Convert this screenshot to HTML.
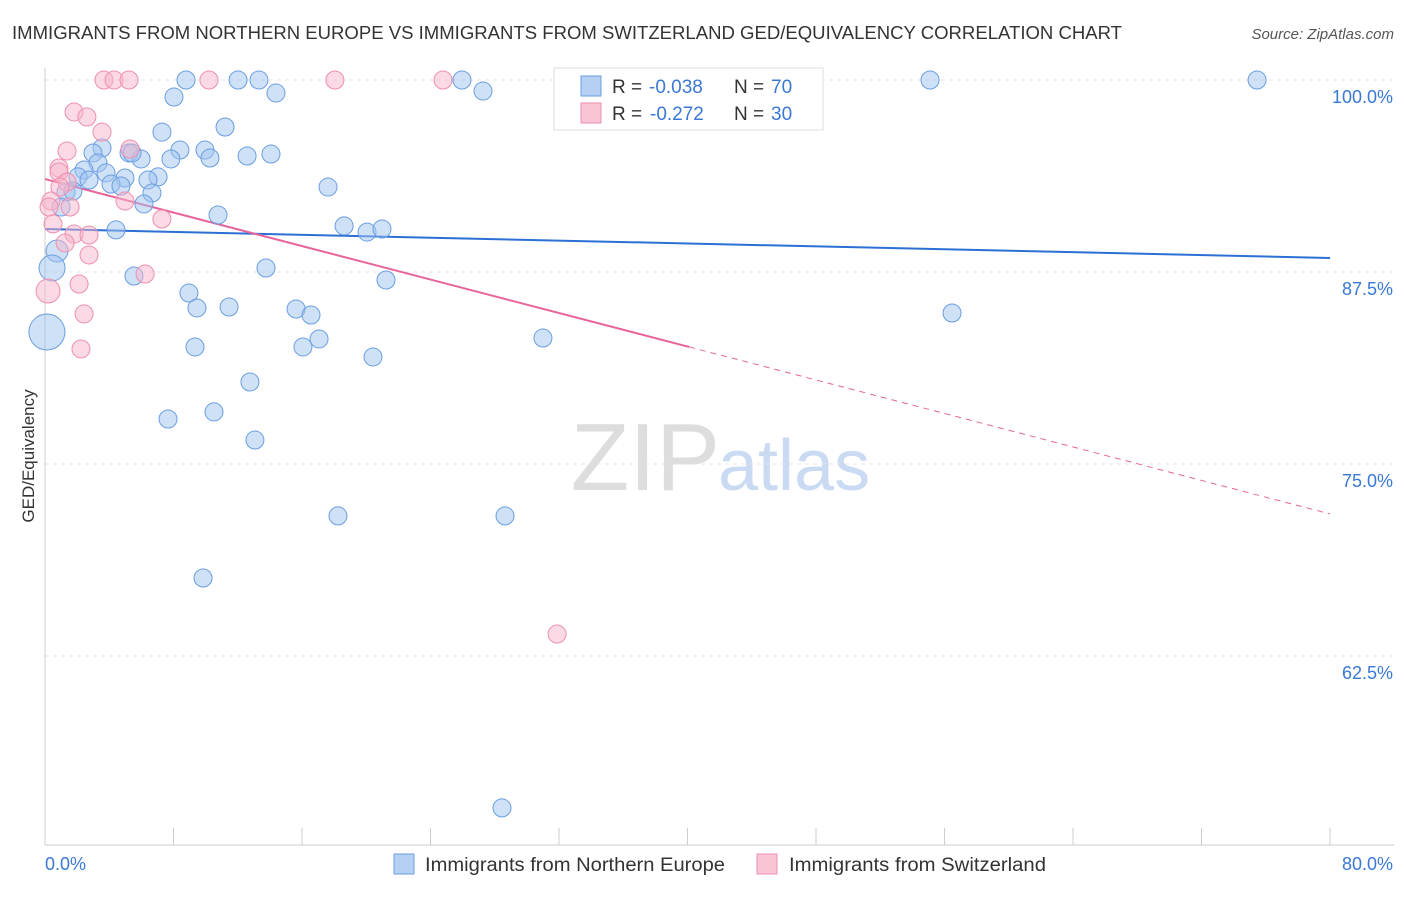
<!DOCTYPE html>
<html><head><meta charset="utf-8"><style>
body{margin:0;background:#fff;font-family:"Liberation Sans",sans-serif;}
svg text{font-family:"Liberation Sans",sans-serif;}
</style></head><body>
<svg id="chart" width="1406" height="892">
<text x="12" y="39" font-size="18" fill="#333" textLength="1110" lengthAdjust="spacingAndGlyphs">IMMIGRANTS FROM NORTHERN EUROPE VS IMMIGRANTS FROM SWITZERLAND GED/EQUIVALENCY CORRELATION CHART</text>
<text x="1394" y="39" font-size="15" fill="#555" font-style="italic" text-anchor="end">Source: ZipAtlas.com</text>
<text x="720" y="490" font-size="96" fill="#ddd" text-anchor="end" font-family="Liberation Serif">ZIP</text>
<text x="718" y="490" font-size="72" fill="#c9daf2">atlas</text>
<text transform="translate(34,456) rotate(-90)" font-size="17" fill="#333" text-anchor="middle">GED/Equivalency</text>
<g id="grid"></g><g id="ticks"></g><g id="lines"></g><g id="pts"></g>
<g>
<rect x="554" y="68" width="269" height="62" fill="#fff" stroke="#ddd"/>
<rect x="581" y="76" width="20" height="20" fill="#b5d0f3" stroke="#6a9ee0"/>
<text x="612" y="93" font-size="19" fill="#333">R =</text>
<text x="649" y="93" font-size="19" fill="#3a78d6">-0.038</text>
<text x="734" y="93" font-size="19" fill="#333">N =</text>
<text x="771" y="93" font-size="19" fill="#3a78d6">70</text>
<rect x="581" y="103" width="20" height="20" fill="#f9c4d4" stroke="#ee8fae"/>
<text x="612" y="120" font-size="19" fill="#333">R =</text>
<text x="650" y="120" font-size="19" fill="#3a78d6">-0.272</text>
<text x="734" y="120" font-size="19" fill="#333">N =</text>
<text x="771" y="120" font-size="19" fill="#3a78d6">30</text>
</g>
<g>
<rect x="394" y="854" width="20" height="20" fill="#b5d0f3" stroke="#6a9ee0"/>
<text x="425" y="871" font-size="19" fill="#333" textLength="300" lengthAdjust="spacingAndGlyphs">Immigrants from Northern Europe</text>
<rect x="757" y="854" width="20" height="20" fill="#f9c4d4" stroke="#ee8fae"/>
<text x="789" y="871" font-size="19" fill="#333" textLength="257" lengthAdjust="spacingAndGlyphs">Immigrants from Switzerland</text>
</g>
</svg>
<script>
const blueX=[33.0,8.78,12.02,13.32,25.96,55.10,75.46,8.03,14.38,27.27,11.21,7.28,3.55,2.99,5.23,5.98,8.40,9.96,10.27,7.84,12.58,14.07,3.30,2.43,3.80,2.05,2.74,4.98,7.04,4.11,4.73,6.41,1.31,1.74,6.66,6.16,1.00,10.77,17.62,4.42,18.62,20.05,20.98,0.75,0.44,13.76,5.54,21.23,8.96,9.46,11.46,15.63,16.56,16.06,17.06,31.00,56.47,20.42,9.34,12.76,0.12,7.66,10.52,13.07,18.24,28.64,9.84,28.45,5.42];
const blueY=[100,100,100,100,100,100,100,98.89,99.15,99.28,96.94,96.61,95.57,95.25,95.25,94.86,95.44,95.44,94.92,94.86,95.05,95.18,94.60,94.14,93.95,93.69,93.49,93.62,93.69,93.23,93.10,93.49,92.71,92.77,92.64,91.93,91.73,91.21,93.03,90.24,90.50,90.10,90.30,88.87,87.76,87.76,87.24,86.98,86.13,85.16,85.22,85.09,84.70,82.62,83.14,83.20,84.83,81.97,82.62,80.34,83.59,77.93,78.39,76.56,71.62,71.62,67.58,52.61,95.25];
const blueR=[9,9,9,9,9,9,9,9,9,9,9,9,9,9,9,9,9,9,9,9,9,9,9,9,9,9,9,9,9,9,9,9,9,9,9,9,9,9,9,9,9,9,9,11,13,9,9,9,9,9,9,9,9,9,9,9,9,9,9,9,18,9,9,9,9,9,9,9,9];
const pinkX=[3.67,4.30,5.23,10.21,18.05,24.78,1.81,2.61,3.55,5.29,1.37,0.87,0.87,1.37,0.93,0.37,0.25,1.56,4.98,7.28,0.50,1.81,2.74,1.25,2.74,6.23,2.12,0.19,2.43,2.24,31.88];
const pinkY=[100,100,100,100,100,100,97.92,97.59,96.61,95.51,95.38,94.27,94.01,93.36,93.03,92.12,91.73,91.73,92.12,90.95,90.63,89.97,89.91,89.39,88.61,87.37,86.72,86.26,84.77,82.49,63.93];
const pinkR=[9,9,9,9,9,9,9,9,9,9,9,9,9,9,9,9,9,9,9,9,9,9,9,9,9,9,9,12,9,9,9];
const yTicks=[100,87.5,75,62.5];
const yTickLabels=["100.0%","87.5%","75.0%","62.5%"];
const xTickLabels=["0.0%","80.0%"];
const blueTrend=[90.30,-0.0236];
const pinkTrend=[93.55,-0.2725];
const pinkSolidEnd=40.1;
const ns="http://www.w3.org/2000/svg";
const X=v=>45+v/80*1285, Y=v=>80+(100-v)/12.5*192;
function mk(tag,attrs,parent){const e=document.createElementNS(ns,tag);for(const k in attrs)e.setAttribute(k,attrs[k]);document.getElementById(parent).appendChild(e);return e;}
yTicks.forEach((t,i)=>{
 const g=mk('line',{x1:45,x2:1394,y1:Y(t),y2:Y(t),stroke:'#e4e4e4','stroke-dasharray':'4,4'},'grid');
 
 
 const l=mk('text',{x:1393,y:Y(t)+23,'font-size':18,fill:'#3a78d6','text-anchor':'end'},'grid');
 l.textContent=yTickLabels[i];
 
 
});
const ax=mk('line',{x1:45,x2:45,y1:68,y2:845,stroke:'#ccc'},'ticks');


const bx=mk('line',{x1:45,x2:1394,y1:845,y2:845,stroke:'#ccc'},'ticks');


for(let i=0;i<=10;i++){const t=mk('line',{x1:X(i*8),x2:X(i*8),y1:828,y2:845,stroke:'#ccc'},'ticks');
 
 }
const xl0=mk('text',{x:45,y:870,'font-size':18,fill:'#3a78d6'},'ticks');xl0.textContent=xTickLabels[0];


const xl1=mk('text',{x:1393,y:870,'font-size':18,fill:'#3a78d6','text-anchor':'end'},'ticks');xl1.textContent=xTickLabels[1];


blueX.forEach((v,i)=>{const c=mk('circle',{cx:X(v),cy:Y(blueY[i]),r:blueR[i],fill:'rgba(160,195,240,0.5)',stroke:'#6a9ee0','stroke-width':1},'pts');
 
 });
pinkX.forEach((v,i)=>{const c=mk('circle',{cx:X(v),cy:Y(pinkY[i]),r:pinkR[i],fill:'rgba(247,182,203,0.5)',stroke:'#ee8fae','stroke-width':1},'pts');
 
 });
const bl=mk('line',{x1:X(0),y1:Y(blueTrend[0]),x2:X(80),y2:Y(blueTrend[0]+blueTrend[1]*80),stroke:'#2c6fd6','stroke-width':2},'lines');


const pl=mk('line',{x1:X(0),y1:Y(pinkTrend[0]),x2:X(pinkSolidEnd),y2:Y(pinkTrend[0]+pinkTrend[1]*pinkSolidEnd),stroke:'#e8649a','stroke-width':2},'lines');


const pd=mk('line',{x1:X(pinkSolidEnd),y1:Y(pinkTrend[0]+pinkTrend[1]*pinkSolidEnd),x2:X(80),y2:Y(pinkTrend[0]+pinkTrend[1]*80),stroke:'#e8649a','stroke-width':1,'stroke-dasharray':'6,5'},'lines');


</script>
</body></html>
